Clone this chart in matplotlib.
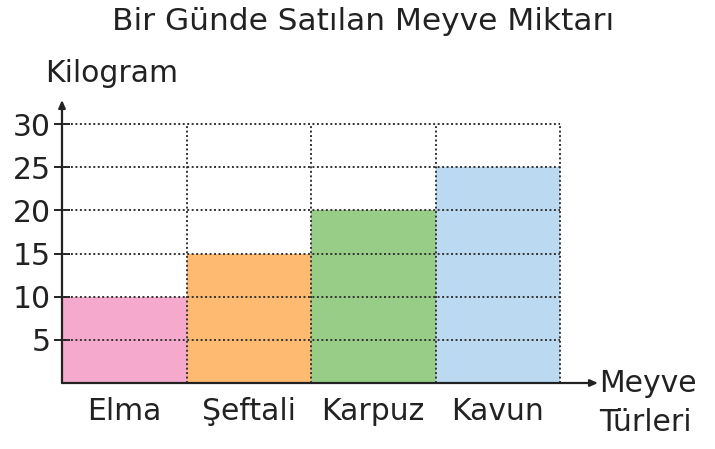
import matplotlib
matplotlib.use("Agg")
import matplotlib.pyplot as plt

categories = ["Elma", "Şeftali", "Karpuz", "Kavun"]
values = [10, 15, 20, 25]
colors = ["#F5A9CC", "#FDBA70", "#97CD87", "#BBDAF2"]
yticks = [5, 10, 15, 20, 25, 30]

title = "Bir Günde Satılan Meyve Miktarı"
ylabel = "Kilogram"
xlabel = "Meyve\nTürleri"

plt.rcParams['font.family'] = ['DejaVu Sans']

W, H = 715, 449
fig = plt.figure(figsize=(W / 100, H / 100), dpi=100)

# axes from x=62 to 598 px, y from 383 (bottom) to 100 (top)
x0, x1, ytop, ybot = 62, 598, 100, 383
ax = fig.add_axes([x0 / W, (H - ybot) / H, (x1 - x0) / W, (ybot - ytop) / H])
n = len(categories)
xmax = n * (x1 - x0) / (560 - x0)
ymax = 30 * (ybot - ytop) / (ybot - 124)
ax.set_xlim(0, xmax)
ax.set_ylim(0, ymax)

pos = [i + 0.5 for i in range(n)]
ax.bar(pos, values, width=1.0, color=colors, edgecolor="none", zorder=1)

grid_kw = dict(color="#333333", lw=1.4, linestyle=(0, (1, 1.3)), zorder=2)
for y in yticks:
    ax.plot([0, n], [y, y], **grid_kw)
for i in range(1, n + 1):
    ax.plot([i, i], [0, max(yticks)], **grid_kw)

for s in ax.spines.values():
    s.set_visible(False)

# arrows for axes
arrow = dict(arrowstyle="-|>,head_length=0.45,head_width=0.2",
             color="#222222", lw=1.6, shrinkA=0, shrinkB=0)
ax.annotate("", xy=(xmax, 0), xytext=(0, 0), arrowprops=arrow,
            annotation_clip=False, zorder=3)
ax.annotate("", xy=(0, ymax), xytext=(0, 0), arrowprops=arrow,
            annotation_clip=False, zorder=3)

fs = 21.5
ax.set_yticks(yticks)
ax.set_yticklabels([str(v) for v in yticks])
ax.tick_params(axis="y", direction="inout", length=11, width=1.4, color="#222222",
               labelsize=fs, labelcolor="#222222", pad=2.5)
ax.set_xticks(pos)
ax.set_xticklabels(categories)
ax.tick_params(axis="x", length=0, labelsize=fs, labelcolor="#222222", pad=10)

fig.text(363 / W, 1 - 21 / H, title, ha="center", va="center", fontsize=22.5, color="#222222")
fig.text(45 / W, 1 - 73 / H, ylabel, ha="left", va="center", fontsize=fs, color="#222222")
fig.text(599 / W, 1 - 403 / H, xlabel, ha="left", va="center", fontsize=fs,
         color="#222222", linespacing=1.4)

fig.savefig("out.png", dpi=100, facecolor="white")
